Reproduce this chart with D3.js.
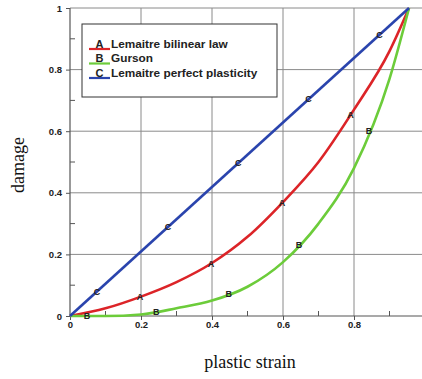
<!DOCTYPE html>
<html>
<head>
<meta charset="utf-8">
<script src="https://cdn.jsdelivr.net/npm/d3@7"></script>
<style>
  html, body { margin: 0; padding: 0; background: #fff; }
  svg { display: block; }
</style>
</head>
<body>
<svg id="chart" width="422" height="379"></svg>
<script>
// Plastic strain sample points shared by the curved laws
const strain = [0, 0.1, 0.2, 0.3, 0.4, 0.5, 0.6, 0.7, 0.8, 0.9, 0.955];
// Damage for each law
const damageBilinear = [0, 0.025, 0.063, 0.11, 0.172, 0.257, 0.37, 0.50, 0.67, 0.86, 1.0];
const damageGurson   = [0, 0.0, 0.005, 0.025, 0.05, 0.095, 0.175, 0.30, 0.48, 0.77, 1.0];
const strainPerfect  = [0, 0.955];
const damagePerfect  = [0, 1.0];

// Letter labels placed along each curve (strain positions)
const labelsA = [0.197, 0.397, 0.597, 0.79];
const labelsB = [0.048, 0.243, 0.447, 0.645, 0.842];
const labelsC = [0.076, 0.276, 0.474, 0.672, 0.872];

const xTicks = [0, 0.2, 0.4, 0.6, 0.8];
const yTicks = [0, 0.2, 0.4, 0.6, 0.8, 1];
const xMinor = [0.1, 0.3, 0.5, 0.7, 0.9];
const yMinor = [0.1, 0.3, 0.5, 0.7, 0.9];

const legendNames = ["Lemaitre bilinear law", "Gurson", "Lemaitre perfect plasticity"];
const legendLetters = ["A", "B", "C"];
const colors = ["#dc2428", "#6ccc3a", "#2a44ad"];

const svg = d3.select("#chart");
const W = 422;
const x = d3.scaleLinear().domain([0, 1]).range([70, 425]);
const y = d3.scaleLinear().domain([0, 1]).range([316, 8]);

const grid = svg.append("g");
// vertical grid lines
grid.selectAll(".vg").data(xTicks.slice(1)).join("line")
  .attr("x1", d => x(d)).attr("x2", d => x(d))
  .attr("y1", y(1)).attr("y2", y(0))
  .attr("stroke", "#8a8a8a").attr("stroke-width", 1);
// horizontal grid lines
grid.selectAll(".hg").data(yTicks.slice(1)).join("line")
  .attr("x1", x(0)).attr("x2", W)
  .attr("y1", d => y(d)).attr("y2", d => y(d))
  .attr("stroke", "#8a8a8a").attr("stroke-width", 1);

// axes
const xAxis = d3.axisBottom(x).tickValues(xTicks).tickSize(4).tickFormat(d3.format("~g"));
const yAxis = d3.axisLeft(y).tickValues(yTicks).tickSize(4).tickFormat(d3.format("~g"));

const gx = svg.append("g").attr("transform", `translate(0,${y(0)})`).call(xAxis);
gx.select(".domain").remove();
const gy = svg.append("g").attr("transform", `translate(${x(0)},0)`).call(yAxis);
gy.select(".domain").remove();

[gx, gy].forEach(g => {
  g.selectAll("line").attr("stroke", "#555");
  g.selectAll("text")
    .attr("font-family", "Liberation Sans, Arial, sans-serif")
    .attr("font-weight", "bold")
    .attr("font-size", 9.5)
    .attr("fill", "#222");
});
gx.selectAll("text").attr("dy", "0.5em");
gy.selectAll("text").attr("dx", "-0.1em");

svg.append("line").attr("x1", x(0)).attr("x2", W).attr("y1", y(0)).attr("y2", y(0))
  .attr("stroke", "#555").attr("stroke-width", 1.2);
svg.append("line").attr("x1", x(0)).attr("x2", x(0)).attr("y1", y(0)).attr("y2", y(1))
  .attr("stroke", "#555").attr("stroke-width", 1.2);

// minor ticks pointing inward
svg.selectAll(".mx").data(xMinor).join("line")
  .attr("x1", d => x(d)).attr("x2", d => x(d))
  .attr("y1", y(0)).attr("y2", y(0) - 5)
  .attr("stroke", "#555");
svg.selectAll(".my").data(yMinor).join("line")
  .attr("x1", x(0)).attr("x2", x(0) + 5)
  .attr("y1", d => y(d)).attr("y2", d => y(d))
  .attr("stroke", "#555");

// curves
const line = d3.line().x(d => x(d[0])).y(d => y(d[1])).curve(d3.curveMonotoneX);
const series = [
  { xs: strain, ys: damageBilinear, color: colors[0], letter: "A", marks: labelsA },
  { xs: strain, ys: damageGurson, color: colors[1], letter: "B", marks: labelsB },
  { xs: strainPerfect, ys: damagePerfect, color: colors[2], letter: "C", marks: labelsC }
];

series.forEach(s => {
  const pts = s.xs.map((v, i) => [v, s.ys[i]]);
  svg.append("path")
    .attr("d", line(pts))
    .attr("fill", "none")
    .attr("stroke", s.color)
    .attr("stroke-width", 2.6)
    .attr("stroke-linejoin", "round");
});

// letter markers along the curves
function valueAt(s, v) {
  const i = d3.bisectRight(s.xs, v) - 1;
  const j = Math.min(i + 1, s.xs.length - 1);
  const t = (v - s.xs[i]) / (s.xs[j] - s.xs[i] || 1);
  return s.ys[i] + t * (s.ys[j] - s.ys[i]);
}
series.forEach(s => {
  svg.selectAll(null).data(s.marks).join("text")
    .attr("x", d => x(d))
    .attr("y", d => y(valueAt(s, d)))
    .attr("dy", "0.35em")
    .attr("text-anchor", "middle")
    .attr("font-family", "Liberation Sans, Arial, sans-serif")
    .attr("font-weight", "bold")
    .attr("font-size", 9)
    .attr("fill", "#222")
    .text(s.letter);
});

// legend
const lg = svg.append("g");
lg.append("rect").attr("x", 82).attr("y", 24).attr("width", 195).attr("height", 73)
  .attr("fill", "#fff").attr("stroke", "#333").attr("stroke-width", 1);
legendNames.forEach((name, i) => {
  const yy = 49 + i * 14.5;
  lg.append("line").attr("x1", 89).attr("x2", 110).attr("y1", yy).attr("y2", yy)
    .attr("stroke", colors[i]).attr("stroke-width", 2.2);
  lg.append("text").attr("x", 99.5).attr("y", yy - 1.2)
    .attr("text-anchor", "middle")
    .attr("font-family", "Liberation Sans, Arial, sans-serif")
    .attr("font-weight", "bold").attr("font-size", 11).attr("fill", "#222")
    .text(legendLetters[i]);
  lg.append("text").attr("x", 111).attr("y", yy - 1.2)
    .attr("font-family", "Liberation Sans, Arial, sans-serif")
    .attr("font-weight", "bold").attr("font-size", 11.8).attr("fill", "#222")
    .text(name);
});

// axis titles
svg.append("text")
  .attr("transform", "translate(24,165) rotate(-90)")
  .attr("text-anchor", "middle")
  .attr("font-family", "Liberation Serif, Times New Roman, serif")
  .attr("font-size", 18).attr("fill", "#111")
  .text("damage");
svg.append("text")
  .attr("x", 250).attr("y", 368)
  .attr("text-anchor", "middle")
  .attr("font-family", "Liberation Serif, Times New Roman, serif")
  .attr("font-size", 18).attr("fill", "#111")
  .text("plastic strain");
</script>
</body>
</html>
